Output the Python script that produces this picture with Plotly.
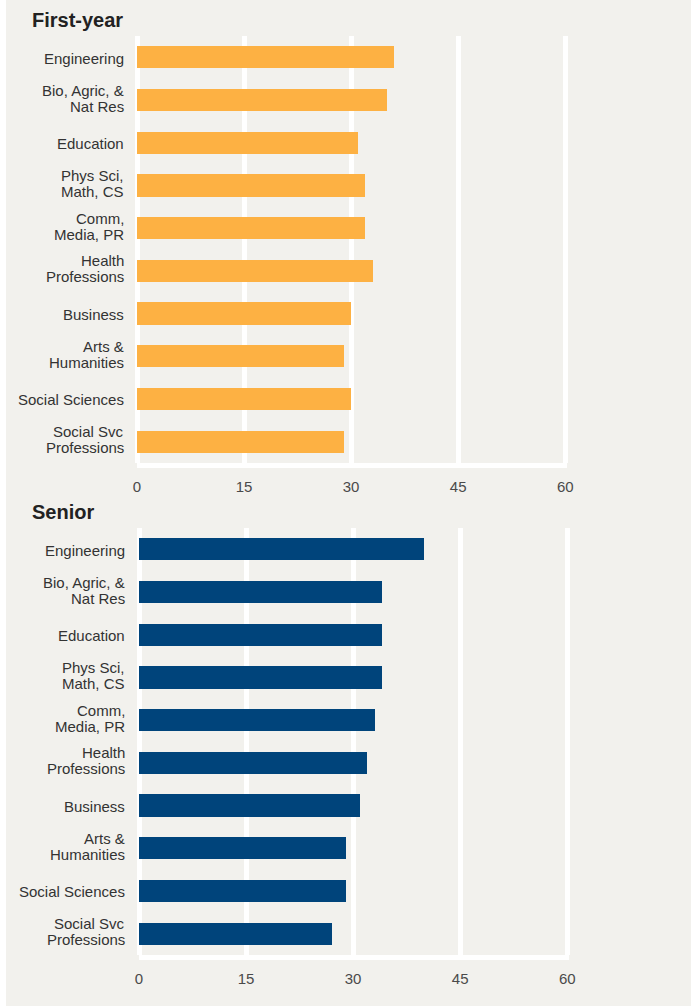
import plotly.graph_objects as go

# Fields of study, listed top to bottom (each entry is one or two label lines)
fields = [
    "Engineering",
    "Bio, Agric, &|Nat Res",
    "Education",
    "Phys Sci,|Math, CS",
    "Comm,|Media, PR",
    "Health|Professions",
    "Business",
    "Arts &|Humanities",
    "Social Sciences",
    "Social Svc|Professions",
]
first_year = [36, 35, 31, 32, 32, 33, 30, 29, 30, 29]
senior = [40, 34, 34, 34, 33, 32, 31, 29, 29, 27]
x_ticks = [0, 15, 30, 45, 60]

W, H = 691, 1006
BG = "#f2f1ed"
ORANGE = "#fdb143"
NAVY = "#00447b"
FONT = "Liberation Sans, Arial, sans-serif"
LABEL_GAP = 16  # px between the two lines of a wrapped label

fig = go.Figure()
fig.add_trace(go.Bar(y=fields, x=first_year, orientation="h",
                     marker=dict(color=ORANGE, line=dict(width=0)),
                     width=0.52, xaxis="x", yaxis="y", hoverinfo="x"))
fig.add_trace(go.Bar(y=fields, x=senior, orientation="h",
                     marker=dict(color=NAVY, line=dict(width=0)),
                     width=0.52, xaxis="x2", yaxis="y2", hoverinfo="x"))

def xax(anchor, x0, x1):
    return dict(anchor=anchor, domain=[x0 / W, x1 / W], range=[0, 60.25],
                tickvals=x_ticks, ticktext=[str(v) for v in x_ticks],
                showgrid=True, gridcolor="white", gridwidth=5,
                zeroline=True, zerolinecolor="white", zerolinewidth=5,
                showline=True, linecolor="white", linewidth=5,
                ticks="", ticklabelstandoff=6, automargin=False,
                tickfont=dict(family=FONT, size=15, color="#4a4a4a"),
                fixedrange=True)

def yax(anchor, top, bottom):
    return dict(anchor=anchor, domain=[1 - bottom / H, 1 - top / H],
                categoryorder="array", categoryarray=fields,
                autorange=False, range=[9.5, -0.5],
                showgrid=False, zeroline=False, showline=False,
                showticklabels=False, ticks="", automargin=False,
                fixedrange=True)

# Category labels, drawn line by line so wrapped names stay compact
annotations = []
for yref, x_right in (("y", 126), ("y2", 127)):
    for name in fields:
        lines = name.split("|")
        n = len(lines)
        base = -1 if n == 1 else 2
        for i, line in enumerate(lines):
            shift = base + (n - 1) / 2 * LABEL_GAP - i * LABEL_GAP
            annotations.append(dict(
                text=line, xref="paper", yref=yref, x=x_right / W, y=name,
                xanchor="right", yanchor="middle", yshift=shift,
                showarrow=False, font=dict(family=FONT, size=15, color="#333333")))

annotations += [
    dict(text="<b>First-year</b>", xref="paper", yref="paper",
         x=30 / W, y=1 - 20 / H, xanchor="left", yanchor="middle",
         showarrow=False, font=dict(family=FONT, size=20, color="#222222")),
    dict(text="<b>Senior</b>", xref="paper", yref="paper",
         x=30 / W, y=1 - 512 / H, xanchor="left", yanchor="middle",
         showarrow=False, font=dict(family=FONT, size=20, color="#222222")),
]

fig.update_layout(
    width=W, height=H,
    margin=dict(l=0, r=0, t=0, b=0, pad=0, autoexpand=False),
    paper_bgcolor=BG,
    plot_bgcolor="rgba(0,0,0,0)",
    showlegend=False,
    bargap=0,
    xaxis=xax("y", 137, 567),
    yaxis=yax("x", 36, 463),
    xaxis2=xax("y2", 139, 569),
    yaxis2=yax("x2", 528, 955),
    shapes=[dict(type="rect", xref="paper", yref="paper",
                 x0=0, x1=6 / W, y0=0, y1=1,
                 fillcolor="white", line=dict(width=0), layer="below")],
    annotations=annotations,
)

fig.write_html("out.html")
